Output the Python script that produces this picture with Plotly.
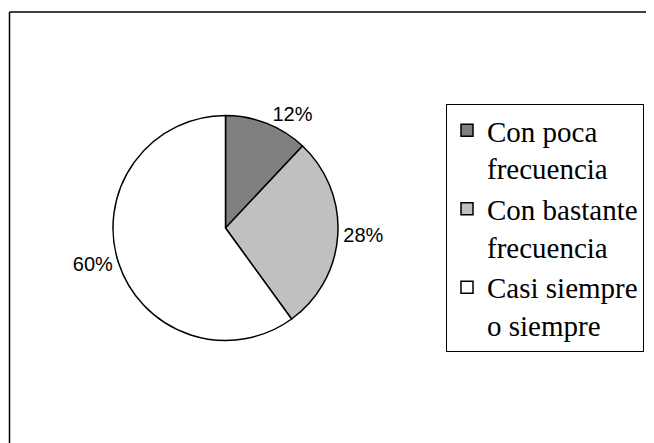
import plotly.graph_objects as go

categories = ["Con poca<br>frecuencia", "Con bastante<br>frecuencia", "Casi siempre<br>o siempre"]
values = [12, 28, 60]
colors = ["#808080", "#c0c0c0", "#ffffff"]

# page has an 8px body margin; figure sized to fill the rest of the 654x443 window
OFF = 8
W, H = 654 - OFF, 443 - OFF
cx, cy, r = 225.5 - OFF, 228 - OFF, 112.5

fig = go.Figure(go.Pie(
    labels=categories,
    values=values,
    sort=False,
    direction="clockwise",
    rotation=0,
    marker=dict(colors=colors, line=dict(color="black", width=1.5)),
    texttemplate="%{value}%",
    textposition="outside",
    textfont=dict(family="Liberation Sans, Arial, sans-serif", size=20, color="black"),
    domain=dict(x=[(cx - r) / W, (cx + r) / W], y=[(H - cy - r) / H, (H - cy + r) / H]),
    hoverinfo="label+percent",
))

fig.update_layout(
    width=W, height=H,
    margin=dict(l=0, r=0, t=0, b=0),
    paper_bgcolor="white",
    plot_bgcolor="white",
    showlegend=True,
    legend=dict(
        x=(446 - OFF) / W, y=1 - (104 - OFF) / H, xanchor="left", yanchor="top",
        font=dict(family="Liberation Serif, Times New Roman, serif", size=29, color="black"),
        bordercolor="black", borderwidth=1, bgcolor="white",
        valign="top",
        tracegroupgap=0,
        itemclick=False,
    ),
    shapes=[
        dict(type="line", xref="paper", yref="paper", x0=1.5 / W, x1=1, y0=1 - 4 / H, y1=1 - 4 / H,
             line=dict(color="black", width=1.5)),
        dict(type="line", xref="paper", yref="paper", x0=1.5 / W, x1=1.5 / W, y0=0, y1=1 - 4 / H,
             line=dict(color="black", width=1.5)),
    ],
)

fig.write_html("out.html")
